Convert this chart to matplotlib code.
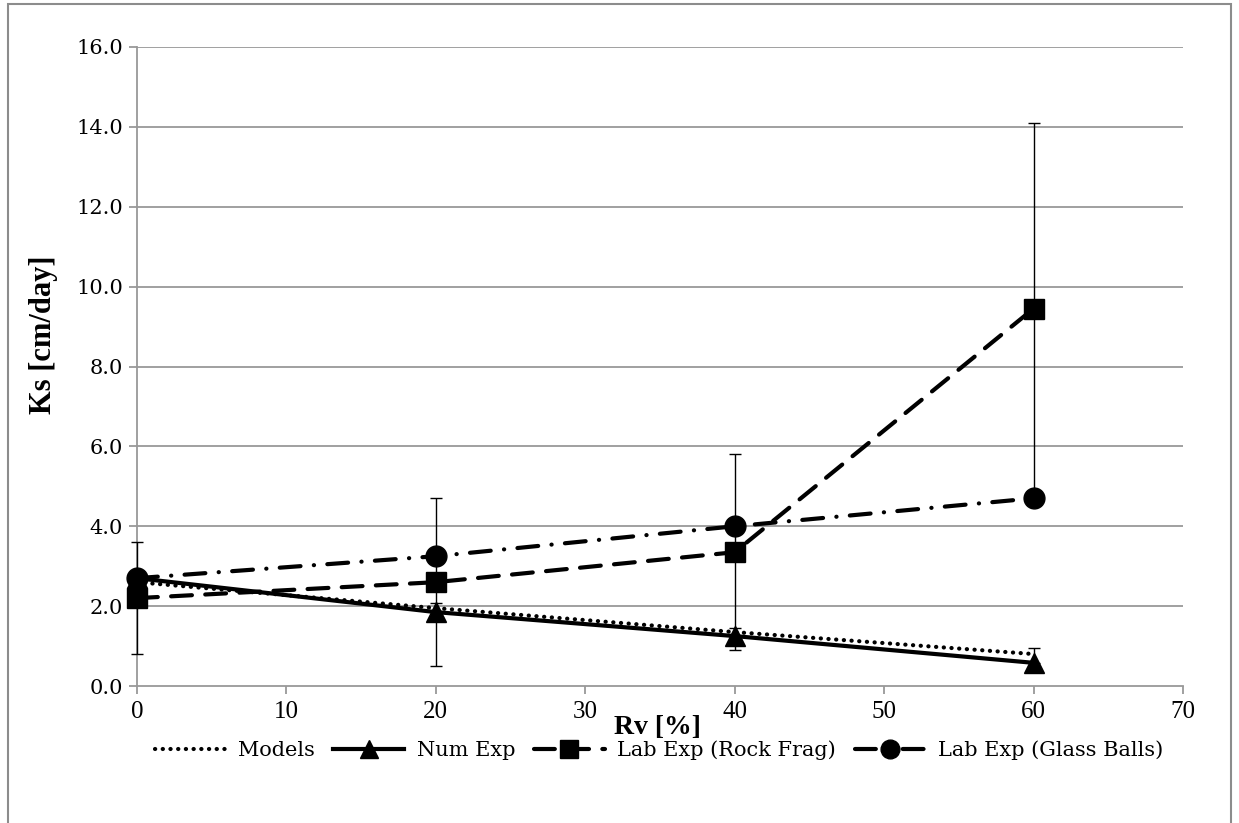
import matplotlib
matplotlib.use("Agg")
import matplotlib.pyplot as plt
from matplotlib.patches import Rectangle

rv = [0, 20, 40, 60]
models = [2.6, 1.95, 1.35, 0.8]
num_exp = [2.7, 1.85, 1.25, 0.58]
num_exp_err_up = [0.0, 0.22, 0.2, 0.37]
rock_frag = [2.2, 2.6, 3.35, 9.45]
rock_frag_err = [1.4, 2.1, 2.45, 4.65]
glass_balls = [2.7, 3.25, 4.0, 4.7]

x_ticks = [0, 10, 20, 30, 40, 50, 60, 70]
y_ticks = [0, 2, 4, 6, 8, 10, 12, 14, 16]

fig = plt.figure(figsize=(12.39, 8.23), dpi=100)
ax = fig.add_axes([137/1239, 1-686/823, (1183-137)/1239, (686-47)/823])

# outer border
fig.patches.append(Rectangle((8/1239, -0.01), (1231-8)/1239, 1-4/823 + 0.01,
                             transform=fig.transFigure, fill=False,
                             edgecolor='#8c8c8c', lw=1.5, zorder=0))

grid_c = '#999999'
for yv in y_ticks[1:]:
    ax.axhline(yv, color=grid_c, lw=1.3, zorder=0)

# error bars
for yv, ye in [(rock_frag, rock_frag_err), (num_exp, [[0, 0, 0, 0], num_exp_err_up])]:
    eb = ax.errorbar(rv, yv, yerr=ye, fmt='none', ecolor='black',
                     elinewidth=1.0, capsize=4.5, capthick=1.0, zorder=3)
    for art in list(eb.lines[1]) + list(eb.lines[2]):
        art.set_clip_on(False)

lw = 3.0
l1, = ax.plot(rv, models, color='black', lw=lw, dashes=(0.05, 1.8),
              dash_capstyle='round', label='Models', zorder=3)
l2, = ax.plot(rv, num_exp, color='black', lw=lw, marker='^', ms=14,
              label='Num Exp', zorder=4, clip_on=False)
l3, = ax.plot(rv, rock_frag, color='black', lw=lw, dashes=(5, 3.2), marker='s', ms=14,
              dash_capstyle='round', label='Lab Exp (Rock Frag)', zorder=4, clip_on=False)
l4, = ax.plot(rv, glass_balls, color='black', lw=lw, dashes=(5, 3.2, 0.05, 3.2),
              marker='o', ms=15, dash_capstyle='round',
              label='Lab Exp (Glass Balls)', zorder=4, clip_on=False)

ax.set_xlim(0, 70)
ax.set_ylim(0, 16)
ax.set_xticks(x_ticks)
ax.set_yticks(y_ticks)
ax.set_yticklabels([f"{v:.1f}" for v in y_ticks], family='DejaVu Serif', fontsize=15)
ax.set_xticklabels([str(v) for v in x_ticks], family='Liberation Serif', fontsize=18)

for s in ['top', 'right']:
    ax.spines[s].set_visible(False)
for s in ['left', 'bottom']:
    ax.spines[s].set_color(grid_c)
    ax.spines[s].set_linewidth(1.3)
ax.tick_params(axis='both', direction='out', color=grid_c, width=1.3, length=6)
ax.tick_params(axis='y', pad=4)
ax.tick_params(axis='x', pad=5)

fig.text(44/1239, 1-335/823, 'Ks [cm/day]', rotation=90, ha='center', va='center',
         family='Liberation Serif', fontweight='bold', fontsize=22)
fig.text(657/1239, 1-727/823, 'Rv [%]', ha='center', va='center',
         family='Liberation Serif', fontweight='bold', fontsize=20)

fig.legend(handles=[l1, l2, l3, l4], loc='center', bbox_to_anchor=(659/1239, 1-750/823),
           ncol=4, frameon=False, prop={'family': 'DejaVu Serif', 'size': 15},
           handlelength=3.4, handletextpad=0.6, columnspacing=0.9, markerscale=0.9)

fig.savefig('out.png', dpi=100)
